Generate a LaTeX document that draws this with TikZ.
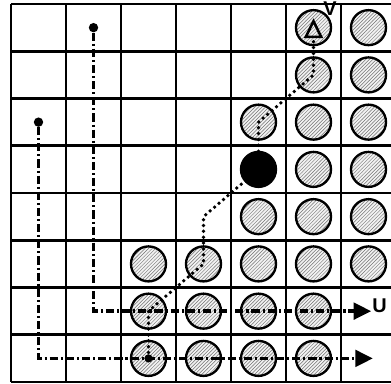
\documentclass[tikz,border=0pt]{standalone}
\usepackage{fontspec}
\setsansfont{Liberation Sans}
\usetikzlibrary{arrows.meta,patterns}

\begin{document}
\begin{tikzpicture}[
    x=1.65cm, y=-1.4175cm,
    gridline/.style={line width=2.2pt},
    disc/.style={circle,draw,line width=2pt,minimum size=1.05cm,inner sep=0pt},
    hatched/.style={disc,preaction={fill=gray!10},pattern=north east lines,pattern color=black!55},
    solidbody/.style={disc,fill=black},
    startdot/.style={circle,fill=black,minimum size=8pt,inner sep=0pt},
    dashdot/.style={line width=3.2pt,dash pattern=on 7pt off 2.5pt on 1.8pt off 2.5pt},
    dotpath/.style={line width=3.2pt,line cap=round,dash pattern=on 0pt off 5pt},
    axislabel/.style={font=\sffamily\bfseries\fontsize{17}{19}\selectfont,inner sep=0pt}
  ]
  \useasboundingbox (-0.2,-0.085) rectangle (6.909,8.021);
  \fill[white] (-0.2,-0.085) rectangle (6.909,8.021);
  % Grid
  \foreach \c in {0,...,7} {
    \draw[gridline] (\c,0) -- (\c,8);
  }
  \foreach \r in {0,...,8} {
    \draw[gridline] (0,\r) -- (7,\r);
  }
  % Hatched discs (column/row)
  \foreach \c/\r in {6/1,7/1,6/2,7/2,5/3,6/3,7/3,6/4,7/4,5/5,6/5,7/5,
                     3/6,4/6,5/6,6/6,7/6,3/7,4/7,5/7,6/7,3/8,4/8,5/8,6/8} {
    \node[hatched] (c\c\r) at (\c-0.5,\r-0.5) {};
  }
  \node[solidbody] (c54) at (4.5,3.5) {};
  \node[startdot,minimum size=7pt] (c38dot) at (c38.center) {};
  % Start points
  \node[startdot] (sA) at (0.5,2.5) {};
  \node[startdot] (sB) at (1.5,0.5) {};
  \coordinate (eA) at (6.58,7.5);
  \coordinate (eB) at (6.55,6.5);
  \coordinate (c45) at (3.5,4.5);
  \coordinate (eV) at (5.5,0.3);
  % Dash-dot paths
  \draw[dashdot,-{Triangle[length=15pt,width=14pt]}] (sA) |- (eA);
  \draw[dashdot,-{Triangle[length=15pt,width=14pt]}] (sB) |- (eB);
  % Dotted staircase
  \draw[dotpath,-{Triangle[open,length=17pt,width=16pt,line width=2.2pt]}]
    (c38.center) -- (c37.center) -- (c46.center) -- (c45)
    -- (c54.center) -- (c53.center) -- (c62.center) -- (eV);
  % Labels
  \node[axislabel] (lU) at (6.7,6.38) {U};
  \node[axislabel] (lV) at (5.8,0.1) {V};
\end{tikzpicture}
\end{document}
